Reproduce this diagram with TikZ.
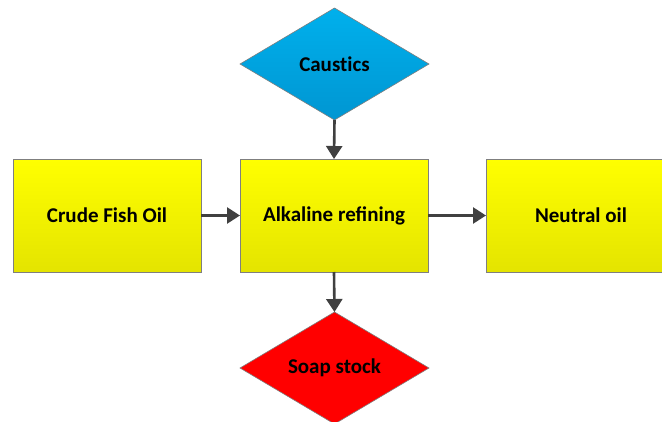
\documentclass[tikz,border=0pt]{standalone}
\usepackage{fontspec}
\setmainfont{Carlito}
\usetikzlibrary{shapes.geometric,arrows.meta}
\definecolor{arrowgray}{HTML}{404040}
\definecolor{edgegray}{HTML}{7F7F7F}
\tikzset{
  lbl/.style={font=\bfseries\fontsize{21}{24}\selectfont, text=black},
  ybox/.style={lbl, rectangle, draw=edgegray, line width=0.6pt, top color={rgb,255:red,255;green,255;blue,0}, bottom color={rgb,255:red,228;green,228;blue,0}, minimum width=188pt, minimum height=113pt, inner sep=0pt, outer sep=0pt},
  dmd/.style={lbl, diamond, draw=edgegray, line width=0.6pt, minimum width=189pt, minimum height=112pt, inner sep=0pt, outer sep=0pt},
  conn/.style={draw=arrowgray, line width=2.6pt, -{Triangle[length=13pt,width=16pt]}}
}
\begin{document}
\begin{tikzpicture}[x=1pt,y=-1pt]
\useasboundingbox (0,0) rectangle (662,421);
\clip (0,0) rectangle (662,421);
\node[dmd, top color={rgb,255:red,0;green,176;blue,236}, bottom color={rgb,255:red,0;green,150;blue,210}] (caus) at (334.5,64) {Caust\kern0pt ics};
\node[ybox] (crude) at (107,215.5) {Crude Fish Oil};
\node[ybox] (alk) at (334,215.5) {Alkaline refining};
\node[ybox, minimum width=190pt] (neut) at (581,215.5) {Neutral oil};
\node[dmd, fill=red] (soap) at (334.5,368) {Soap stock};
\draw[conn] (caus.south) -- (alk.north);
\draw[conn] (crude.east) -- (alk.west);
\draw[conn] (alk.east) -- (neut.west);
\draw[conn] (alk.south) -- (soap.north);
\end{tikzpicture}
\end{document}
